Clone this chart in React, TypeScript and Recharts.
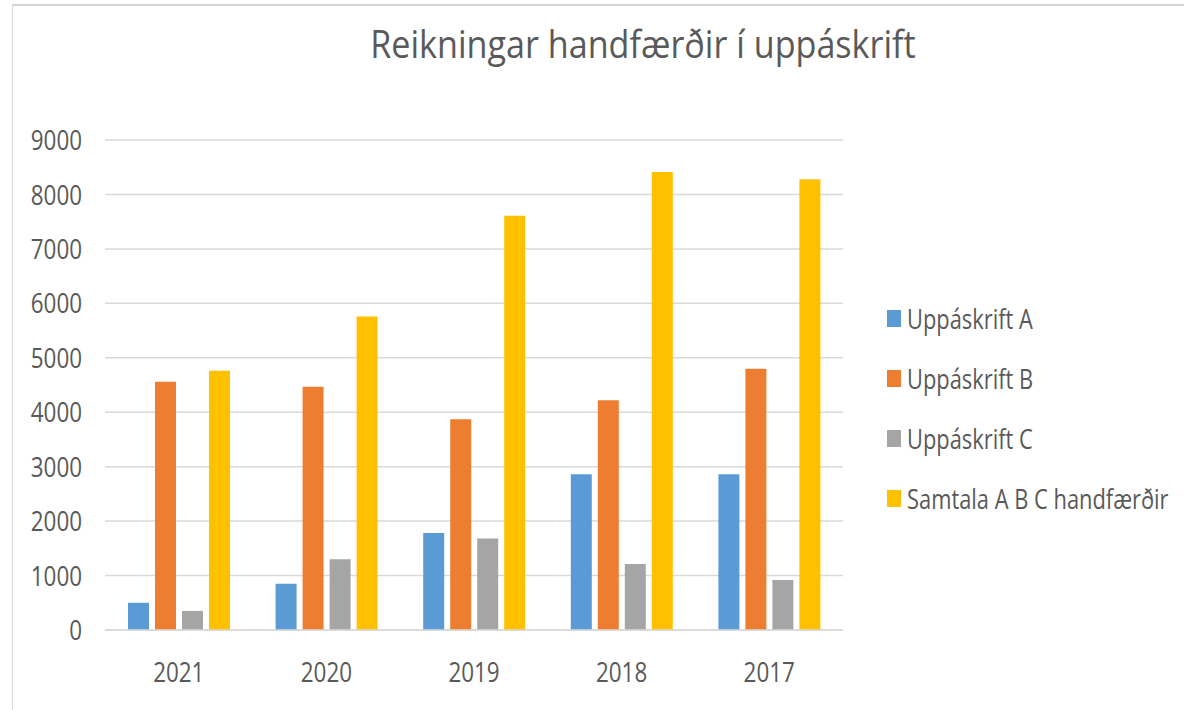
import React from "react";
import { BarChart, Bar, XAxis, YAxis, CartesianGrid, Legend } from "recharts";

const years = ["2021", "2020", "2019", "2018", "2017"];
const seriesA = [500, 850, 1780, 2860, 2860];
const seriesB = [4560, 4470, 3870, 4220, 4800];
const seriesC = [350, 1300, 1680, 1210, 920];
const seriesTotal = [4760, 5760, 7610, 8410, 8280];
const yTicks = [0, 1000, 2000, 3000, 4000, 5000, 6000, 7000, 8000, 9000];

const seriesKeys = ["a", "b", "c", "t"];
const seriesNames = ["Uppáskrift A", "Uppáskrift B", "Uppáskrift C", "Samtala A B C handfærðir"];
const seriesColors = ["#5B9BD5", "#ED7D31", "#A5A5A5", "#FFC000"];

const data = years.map((y, i) => ({
  year: y,
  a: seriesA[i],
  b: seriesB[i],
  c: seriesC[i],
  t: seriesTotal[i],
}));

const FONT = "'Open Sans', sans-serif";
const TEXT = "#595959";
const SQUEEZE = 0.8;

const YTick = (props: any) => {
  const { x, y, payload } = props;
  return (
    <g transform={`translate(${x},${y}) scale(${SQUEEZE},1)`}>
      <text x={0} y={0} dy="0.36em" textAnchor="end" fill={TEXT} fontSize={28} fontFamily={FONT}>
        {payload.value}
      </text>
    </g>
  );
};

const XTick = (props: any) => {
  const { x, y, payload } = props;
  return (
    <g transform={`translate(${x},${y}) scale(${SQUEEZE},1)`}>
      <text x={0} y={0} dy="0.72em" textAnchor="middle" fill={TEXT} fontSize={28} fontFamily={FONT}>
        {payload.value}
      </text>
    </g>
  );
};

const LegendContent = (props: any) => {
  const payload = props.payload || [];
  return (
    <div style={{ fontFamily: FONT, color: TEXT, fontSize: 27 }}>
      {payload.map((p: any, i: number) => (
        <div key={i} style={{ display: "flex", alignItems: "center", height: 60 }}>
          <span style={{ width: 14, height: 17, background: p.color, display: "inline-block", marginRight: 6, flex: "none" }} />
          <span style={{ display: "inline-block", transform: `scaleX(${SQUEEZE + 0.01})`, transformOrigin: "left center", whiteSpace: "nowrap" }}>
            {p.value}
          </span>
        </div>
      ))}
    </div>
  );
};

export default function App() {
  return (
    <div style={{ position: "absolute", left: 0, top: 0, width: 1184, height: 710, background: "#fff", overflow: "hidden" }}>
      <div style={{ position: "absolute", left: 12, top: 4, right: 0, bottom: 0, borderTop: "2px solid #d4d4d4", borderLeft: "1.5px solid #d9d9d9" }} />
      <div
        style={{
          position: "absolute",
          left: 143,
          width: 1000,
          top: 15,
          textAlign: "center",
          fontFamily: FONT,
          fontSize: 39,
          lineHeight: "56px",
          color: TEXT,
          transform: "scaleX(0.875)",
          transformOrigin: "center",
          whiteSpace: "nowrap",
        }}
      >
        Reikningar handfærðir í uppáskrift
      </div>
      <BarChart
        width={1184}
        height={710}
        data={data}
        margin={{ top: 140, right: 41, bottom: 40, left: 0 }}
        barGap={6}
        barCategoryGap={23}
      >
        <CartesianGrid vertical={false} stroke="#d9d9d9" strokeWidth={1.5} />
        <XAxis
          dataKey="year"
          height={40}
          axisLine={{ stroke: "#d9d9d9", strokeWidth: 1.5 }}
          tickLine={false}
          tickMargin={26}
          tick={<XTick />}
        />
        <YAxis
          width={105}
          domain={[0, 9000]}
          ticks={yTicks}
          axisLine={false}
          tickLine={false}
          tickMargin={17}
          tick={<YTick />}
        />
        <Legend
          layout="vertical"
          align="right"
          verticalAlign="middle"
          itemSorter="dataKey"
          content={LegendContent}
          wrapperStyle={{ left: 887, top: 288, width: 300 }}
        />
        {seriesKeys.map((k, i) => (
          <Bar key={k} dataKey={k} name={seriesNames[i]} fill={seriesColors[i]} isAnimationActive={false} />
        ))}
      </BarChart>
    </div>
  );
}
